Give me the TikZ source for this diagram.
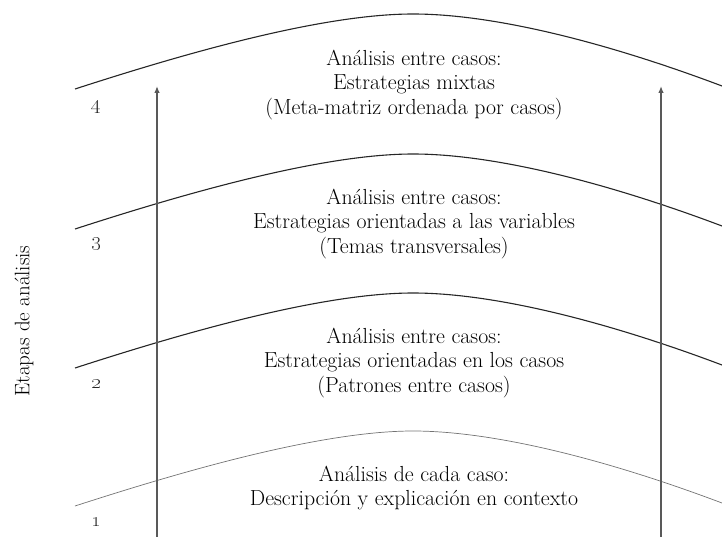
\documentclass[tikz,border=0pt]{standalone}
\usetikzlibrary{arrows.meta}
\begin{document}
\begin{tikzpicture}[x=1pt,y=-1pt,
  hump/.style={line width=1.1pt, draw=black!85},
  humplight/.style={line width=0.7pt, draw=black!55},
  uparrow/.style={line width=1.3pt, draw=black!65, -{Latex[length=7pt,width=5.5pt]}},
  stagetext/.style={align=center, text=black, font=\fontsize{21.8}{24.5}\selectfont},
  stagenum/.style={text=black!85, font=\fontsize{20}{24}\selectfont},
  sidelabel/.style={rotate=90, text=black, font=\fontsize{21}{24}\selectfont}]
\useasboundingbox (0,0) rectangle (722,537);
\def\humppath{(75,89) .. controls (180,55) and (320,14) .. (413,14) .. controls (490,14) and (600,40) .. (722,86)}
% stage boundaries
\draw[hump] \humppath;
\draw[hump, shift={(0,140)}] \humppath;
\draw[hump, shift={(0,279)}] \humppath;
\draw[humplight, shift={(0,417)}] \humppath;
% arrows
\coordinate (la0) at (157,537);
\coordinate (la1) at (157,86);
\coordinate (ra0) at (661,537);
\coordinate (ra1) at (661,86);
\draw[uparrow] (la0) -- (la1);
\draw[uparrow] (ra0) -- (ra1);
% stage numbers
\node[stagenum] (n4) at (96,107) {\oldstylenums{4}};
\node[stagenum] (n3) at (96,244) {\oldstylenums{3}};
\node[stagenum] (n2) at (96,384) {\oldstylenums{2}};
\node[stagenum] (n1) at (96,522) {\oldstylenums{1}};
% side label
\node[sidelabel] (side) at (24,321) {Etapas de análisis};
% stage texts
\node[stagetext] (s4) at (414,85) {Análisis entre casos:\\Estrategias mixtas\\(Meta-matriz ordenada por casos)};
\node[stagetext] (s3) at (414,224) {Análisis entre casos:\\Estrategias orientadas a las variables\\(Temas transversales)};
\node[stagetext] (s2) at (414,363) {Análisis entre casos:\\Estrategias orientadas en los casos\\(Patrones entre casos)};
\node[stagetext] (s1) at (414,488) {Análisis de cada caso:\\Descripción y explicación en contexto};
\end{tikzpicture}
\end{document}
